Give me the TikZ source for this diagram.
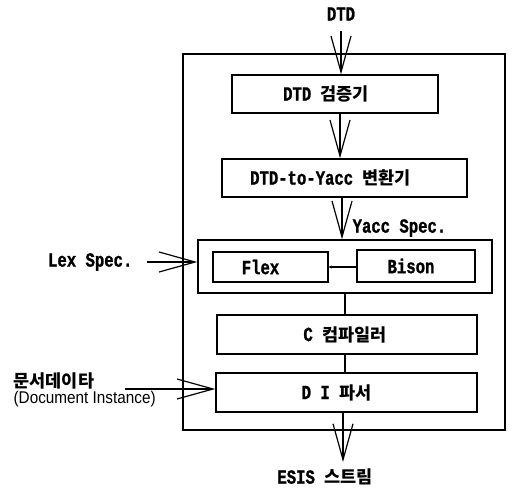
\documentclass[tikz,border=0pt]{standalone}
\usepackage{fontspec}
\usetikzlibrary{arrows.meta}
\newfontfamily\monof[FakeStretch=0.78,FakeBold=1.2]{Liberation Mono}
\newfontfamily\krf{Noto Sans CJK KR}
\newfontfamily\sansf[FakeStretch=0.9]{Liberation Sans}
\newcommand{\boxtxt}{\fontsize{20}{22}\selectfont\monof\bfseries}
\newcommand{\kortxt}[1]{{\fontsize{17.5}{19}\selectfont\krf\bfseries #1}}
\newcommand{\shl}[1]{\hspace*{-#1pt}\hspace*{-#1pt}}
\begin{document}
\begin{tikzpicture}[x=1pt,y=-1pt,line width=1.3pt,
  bx/.style={draw,line width=1.4pt,inner sep=0pt,font=\boxtxt},
  openarr/.style={-{Straight Barb[length=36pt,width=20pt,line width=1.2pt]}},
  lbl/.style={inner sep=0pt,font=\boxtxt}]
\useasboundingbox (0,0) rectangle (513,489);
\fill[white] (0,0) rectangle (513,489);
% outer frame
\node[draw,line width=1.4pt,minimum width=322pt,minimum height=376pt,inner sep=0pt] (outer) at (344,242) {};
% boxes
\node[bx,minimum width=206pt,minimum height=38pt] (dtdbox) at (335,94) {\shl{9}DTD \kortxt{검증기}};
\node[bx,minimum width=245pt,minimum height=38pt] (yaccbox) at (344.5,178) {\shl{14}DTD-to-Yacc \kortxt{변환기}};
\node[bx,minimum width=294pt,minimum height=53pt] (group) at (345,266.5) {};
\node[bx,minimum width=115pt,minimum height=30pt] (flex) at (270.5,267) {\shl{10}Flex};
\node[bx,minimum width=118pt,minimum height=32pt] (bison) at (416,266) {\shl{5}Bison};
\node[bx,minimum width=260pt,minimum height=39pt] (cbox) at (347,334.5) {\shl{2}C \kortxt{컴파일러}};
\node[bx,minimum width=261pt,minimum height=39pt] (dibox) at (346.5,392.5) {\shl{10}D I \kortxt{파서}};
% labels
\node[lbl] (dtdlabel) at (341,14) {DTD};
\node[lbl,anchor=west] (yspec) at (352,228) {Yacc Spec.};
\node[lbl,anchor=east] (lex) at (133,262) {Lex Spec.};
\node[inner sep=0pt,anchor=west] (doc1) at (13,381) {\kortxt{문서데이타}};
\node[inner sep=0pt,anchor=west,font=\fontsize{17}{19}\selectfont\sansf] (doc2) at (13,399) {(Document Instance)};
\node[lbl] (esis) at (325,477) {ESIS \kortxt{스트림}};
% coordinates
\coordinate (dtdin) at (341,31);
\coordinate (ax1) at (340,0);
\coordinate (ax2) at (342,0);
\coordinate (ax3) at (345,0);
\coordinate (esisin) at (343,462);
\coordinate (docin) at (125,389);
% connectors
\draw[openarr] (dtdin) -- (dtdin |- dtdbox.north);
\draw[openarr] (dtdbox.south -| ax1) -- (yaccbox.north -| ax1);
\draw[openarr] (yaccbox.south -| ax2) -- (group.north -| ax2);
\draw (group.south -| ax3) -- (cbox.north -| ax3);
\draw (cbox.south -| ax3) -- (dibox.north -| ax3);
\draw[openarr] (dibox.south -| esisin) -- (esisin);
\draw[-{Stealth[length=3pt,width=3pt]},line width=1.1pt] (bison.west |- flex.east) -- (flex.east);
\draw[openarr] ([xshift=14pt]lex.east) -- (lex.east -| group.west);
\draw[openarr] (docin) -- (docin -| dibox.west);
\end{tikzpicture}
\end{document}
